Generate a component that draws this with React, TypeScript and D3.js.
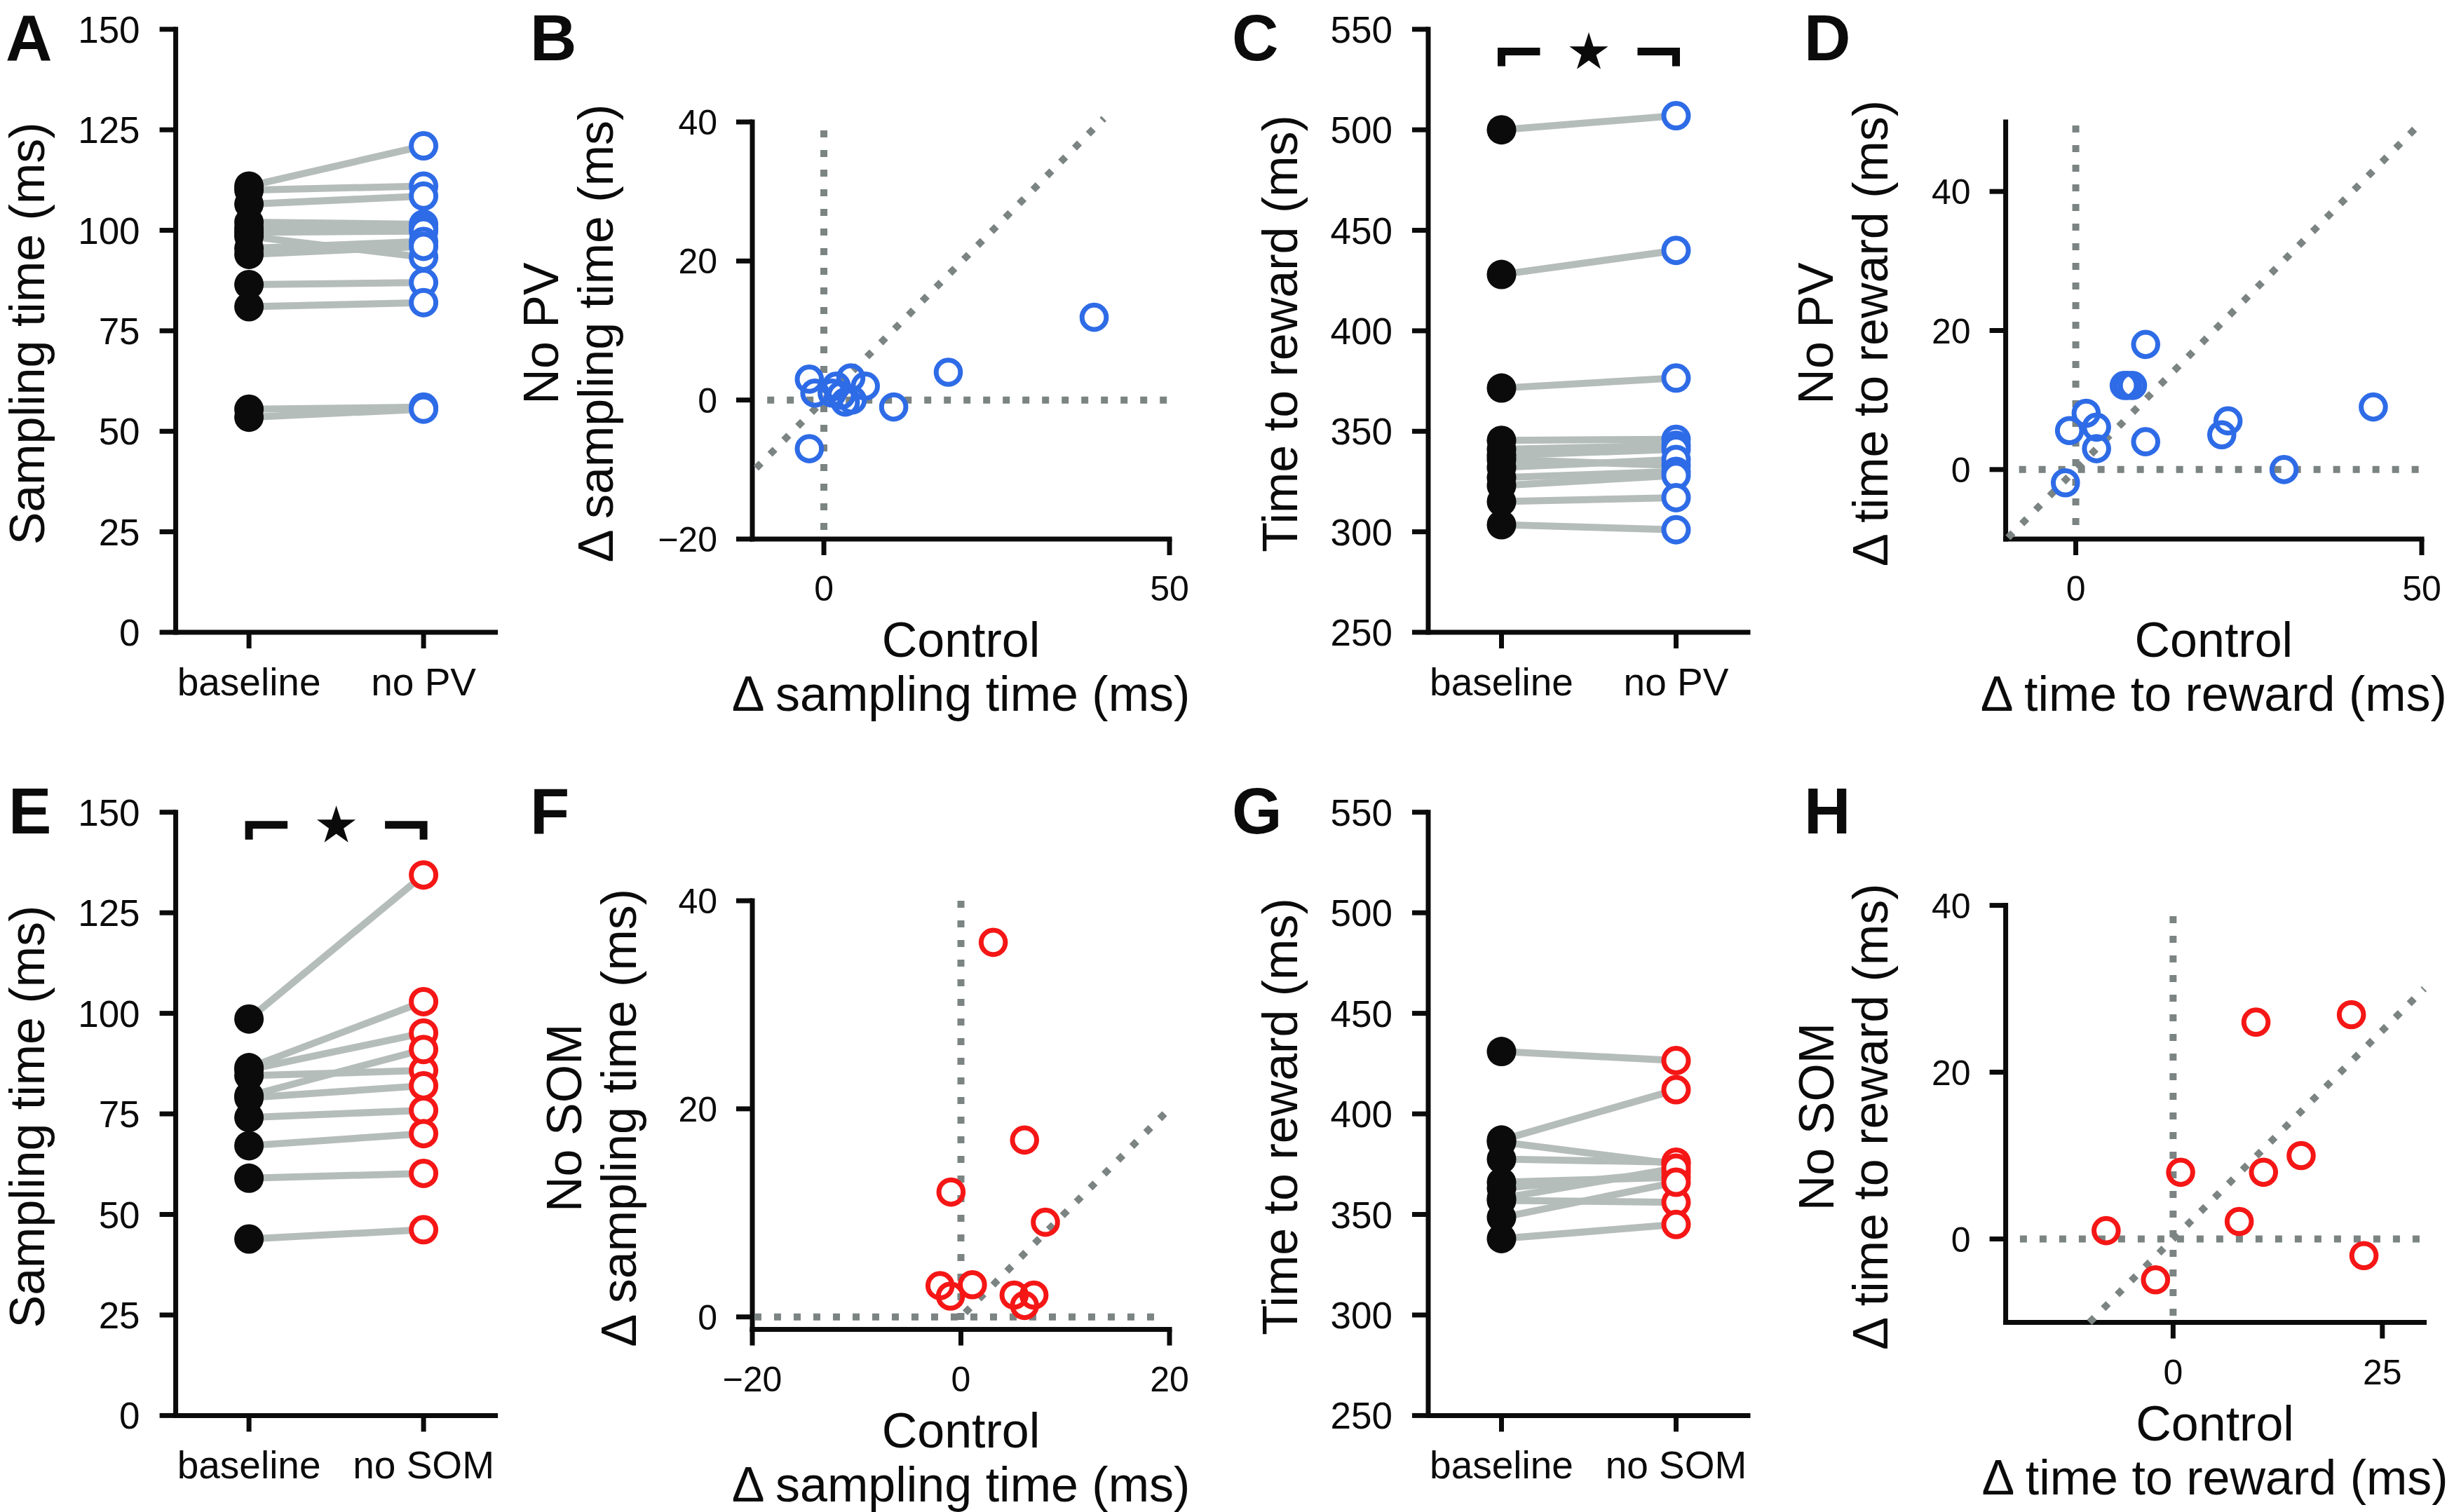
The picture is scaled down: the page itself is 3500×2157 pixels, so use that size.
import React from "react";
import * as d3 from "d3";

// ---------- data ----------
const catsPV = ["baseline", "no PV"];
const catsSOM = ["baseline", "no SOM"];
const samplingTicks = [0, 25, 50, 75, 100, 125, 150];
const rewardTicks = [250, 300, 350, 400, 450, 500, 550];

// A: sampling time, baseline vs no PV
const samplingBaselinePV = [111, 110, 106.5, 102, 100.5, 99.5, 98.5, 95.5, 94, 86.5, 81, 55.5, 53.5];
const samplingNoPV = [121, 111, 108.5, 101.5, 100.5, 99.8, 93.3, 97.2, 96, 87, 82, 56, 55.5];

// C: time to reward, baseline vs no PV
const rewardBaselinePV = [500, 428, 371.5, 345.5, 341, 338, 336, 332, 327, 323, 315, 303.5];
const rewardNoPV = [507, 440, 376.5, 346, 343, 341, 333, 336, 330, 328, 317, 301];

// E: sampling time, baseline vs no SOM
const samplingBaselineSOM = [98.6, 86.5, 86, 84.5, 79.5, 79, 74.1, 67.1, 59, 43.9];
const samplingNoSOM = [134.4, 102.9, 95.1, 85.8, 91, 82, 75.9, 70.1, 60.2, 46.2];

// G: time to reward, baseline vs no SOM
const rewardBaselineSOM = [431, 387, 386, 377.5, 366, 363, 357, 358, 348.5, 338];
const rewardNoSOM = [426.5, 412, 375, 376, 368.5, 371, 356, 373, 366, 345];

// B: delta sampling time, control (x) vs no PV (y)
const dSampCtrlPV = [-2.1, -1.3, -2.1, 1.2, 1.8, 2.5, 3.1, 4.1, 3.9, 6.0, 10.1, 18.0, 39.1];
const dSampNoPV = [3.0, 1.0, -7.0, 1.0, 2.0, 0.7, -0.3, 0, 3.2, 2.0, -1.0, 4.0, 11.9];

// D: delta time to reward, control (x) vs no PV (y)
const dRewCtrlPV = [-1.5, -0.9, 1.5, 3.0, 3.0, 7.0, 7.5, 8.2, 10.1, 10.1, 21.1, 22.0, 30.1, 43.0];
const dRewNoPV = [-1.9, 5.6, 8.1, 6.1, 3.0, 12.1, 12.1, 12.1, 18.0, 4.0, 5.0, 7.0, 0, 9.0];

// F: delta sampling time, control (x) vs no SOM (y)
const dSampCtrlSOM = [3.1, 6.1, -0.95, 8.1, -2.0, 1.1, -1.0, 5.1, 7.0, 6.1];
const dSampNoSOM = [36.0, 17.0, 12.0, 9.1, 3.0, 3.1, 2.0, 2.1, 2.1, 1.1];

// H: delta time to reward, control (x) vs no SOM (y)
const dRewCtrlSOM = [-8.0, -2.1, 0.9, 7.9, 9.9, 10.8, 15.3, 21.3, 22.8];
const dRewNoSOM = [1.0, -4.9, 8.0, 2.1, 26.0, 8.0, 10.0, 26.9, -2.0];

// ---------- style ----------
const FONT = '"Liberation Sans", Arial, Helvetica, sans-serif';
const BLUE = "#2e6be6";
const RED = "#f51616";
const LINE_GRAY = "#b5bdbb";
const DASH_GRAY = "#7b8482";
const INK = "#0b0b0b";

function Letter({ x, y, t }: { x: number; y: number; t: string }) {
  return (
    <text x={x} y={y} fontFamily={FONT} fontWeight="bold" fontSize={92} fill={INK}>
      {t}
    </text>
  );
}

function VText({ x, y, t, size = 70 }: { x: number; y: number; t: string; size?: number }) {
  return (
    <text
      transform={`translate(${x},${y}) rotate(-90)`}
      textAnchor="middle"
      fontFamily={FONT}
      fontSize={size}
      fill={INK}
    >
      {t}
    </text>
  );
}

type PairedProps = {
  letter: string;
  letterX: number;
  letterY: number;
  axisX: number;
  yTop: number;
  yBot: number;
  domain: [number, number];
  ticks: number[];
  cats: string[];
  before: number[];
  after: number[];
  color: string;
  yLabel: string;
  yLabelX: number;
  bracketY?: number;
};

function PairedPanel(p: PairedProps) {
  const y = d3.scaleLinear().domain(p.domain).range([p.yBot, p.yTop]);
  const x = d3.scalePoint<string>().domain(p.cats).range([p.axisX + 104.5, p.axisX + 353.5]);
  const xEnd = p.axisX + 459.5;
  const x0 = x(p.cats[0]) as number;
  const x1 = x(p.cats[1]) as number;
  const star = d3.symbol().type(d3.symbolStar).size(944)() as string;
  return (
    <g>
      <Letter x={p.letterX} y={p.letterY} t={p.letter} />
      <VText x={p.yLabelX} y={(p.yTop + p.yBot) / 2 + 4} t={p.yLabel} />
      <line x1={p.axisX} y1={p.yTop} x2={p.axisX} y2={p.yBot} stroke={INK} strokeWidth={7} strokeLinecap="square" />
      <line x1={p.axisX} y1={p.yBot} x2={xEnd} y2={p.yBot} stroke={INK} strokeWidth={7} />
      {p.ticks.map((t) => (
        <g key={t}>
          <line x1={p.axisX - 23} x2={p.axisX} y1={y(t)} y2={y(t)} stroke={INK} strokeWidth={7} />
          <text x={p.axisX - 51} y={y(t)} dy="0.36em" textAnchor="end" fontFamily={FONT} fontSize={53} fill={INK}>
            {t}
          </text>
        </g>
      ))}
      {p.cats.map((c) => (
        <g key={c}>
          <line x1={x(c)} x2={x(c)} y1={p.yBot} y2={p.yBot + 23} stroke={INK} strokeWidth={7} />
          <text x={x(c)} y={p.yBot + 90} textAnchor="middle" fontFamily={FONT} fontSize={55} fill={INK}>
            {c}
          </text>
        </g>
      ))}
      {p.before.map((b, i) => (
        <line key={"l" + i} x1={x0} y1={y(b)} x2={x1} y2={y(p.after[i])} stroke={LINE_GRAY} strokeWidth={10} />
      ))}
      {p.before.map((b, i) => (
        <circle key={"b" + i} cx={x0} cy={y(b)} r={21} fill={INK} />
      ))}
      {p.after.map((a, i) => (
        <circle key={"a" + i} cx={x1} cy={y(a)} r={17.5} fill="#fff" stroke={p.color} strokeWidth={7} />
      ))}
      {p.bracketY !== undefined && (
        <g>
          <path
            d={`M${x0},${p.bracketY + 21} V${p.bracketY} H${x0 + 55}`}
            fill="none"
            stroke={INK}
            strokeWidth={11}
            strokeLinejoin="miter"
          />
          <path
            d={`M${x1},${p.bracketY + 21} V${p.bracketY} H${x1 - 55}`}
            fill="none"
            stroke={INK}
            strokeWidth={11}
            strokeLinejoin="miter"
          />
          <path d={star} transform={`translate(${(x0 + x1) / 2},${p.bracketY + 1.5})`} fill={INK} />
        </g>
      )}
    </g>
  );
}

type ScatterProps = {
  letter: string;
  letterX: number;
  letterY: number;
  x0: number;
  x1: number;
  yTop: number;
  yBot: number;
  xDomain: [number, number];
  yDomain: [number, number];
  xTicks: number[];
  yTicks: number[];
  xs: number[];
  ys: number[];
  color: string;
  yTitle1: string;
  yTitle2: string;
  yTitleX1: number;
  yTitleX2: number;
  xTitle2: string;
  diag: [number, number];
  vRange: [number, number];
  hRange: [number, number];
};

function ScatterPanel(p: ScatterProps) {
  const x = d3.scaleLinear().domain(p.xDomain).range([p.x0, p.x1]);
  const y = d3.scaleLinear().domain(p.yDomain).range([p.yBot, p.yTop]);
  const cx = (p.x0 + p.x1) / 2;
  const cy = (p.yTop + p.yBot) / 2 + 4;
  const dash = { stroke: DASH_GRAY, strokeWidth: 10, strokeDasharray: "10 18", fill: "none" };
  return (
    <g>
      <Letter x={p.letterX} y={p.letterY} t={p.letter} />
      <VText x={p.yTitleX1} y={cy} t={p.yTitle1} />
      <VText x={p.yTitleX2} y={cy} t={p.yTitle2} />
      <text x={cx} y={p.yBot + 168} textAnchor="middle" fontFamily={FONT} fontSize={70} fill={INK}>
        Control
      </text>
      <text x={cx} y={p.yBot + 245} textAnchor="middle" fontFamily={FONT} fontSize={70} fill={INK}>
        {p.xTitle2}
      </text>
      <line x1={p.x0} y1={p.yTop} x2={p.x0} y2={p.yBot} stroke={INK} strokeWidth={7} strokeLinecap="square" />
      <line x1={p.x0} y1={p.yBot} x2={p.x1} y2={p.yBot} stroke={INK} strokeWidth={7} strokeLinecap="square" />
      {p.yTicks.map((t) => (
        <g key={"y" + t}>
          <line x1={p.x0 - 23} x2={p.x0} y1={y(t)} y2={y(t)} stroke={INK} strokeWidth={7} />
          <text x={p.x0 - 50} y={y(t)} dy="0.36em" textAnchor="end" fontFamily={FONT} fontSize={50} fill={INK}>
            {t < 0 ? "\u2212" + Math.abs(t) : t}
          </text>
        </g>
      ))}
      {p.xTicks.map((t) => (
        <g key={"x" + t}>
          <line x1={x(t)} x2={x(t)} y1={p.yBot} y2={p.yBot + 23} stroke={INK} strokeWidth={7} />
          <text x={x(t)} y={p.yBot + 88} textAnchor="middle" fontFamily={FONT} fontSize={50} fill={INK}>
            {t < 0 ? "\u2212" + Math.abs(t) : t}
          </text>
        </g>
      ))}
      <line x1={x(0)} x2={x(0)} y1={y(p.vRange[1])} y2={y(p.vRange[0])} {...dash} />
      <line x1={x(p.hRange[0])} x2={x(p.hRange[1])} y1={y(0)} y2={y(0)} {...dash} />
      <line x1={x(p.diag[0])} y1={y(p.diag[0])} x2={x(p.diag[1])} y2={y(p.diag[1])} {...dash} />
      {p.xs.map((v, i) => (
        <circle key={i} cx={x(v)} cy={y(p.ys[i])} r={17.3} fill="none" stroke={p.color} strokeWidth={7} />
      ))}
    </g>
  );
}

export default function App() {
  const r1Top = 41.8, r1Bot = 902;
  const r2Top = 1158.7, r2Bot = 2019.4;
  return (
    <svg
      width={3500}
      height={2157}
      viewBox="0 0 3500 2157"
      style={{ position: "absolute", left: 0, top: 0, background: "#fff", display: "block" }}
    >
      <rect x={0} y={0} width={3500} height={2157} fill="#fff" />
      <PairedPanel
        letter="A" letterX={8} letterY={86}
        axisX={250.6} yTop={r1Top} yBot={r1Bot}
        domain={[0, 150]} ticks={samplingTicks} cats={catsPV}
        before={samplingBaselinePV} after={samplingNoPV} color={BLUE}
        yLabel="Sampling time (ms)" yLabelX={63}
      />
      <ScatterPanel
        letter="B" letterX={756} letterY={86}
        x0={1073} x1={1668} yTop={174} yBot={769}
        xDomain={[-10.35, 50]} yDomain={[-20, 40]}
        xTicks={[0, 50]} yTicks={[-20, 0, 20, 40]}
        xs={dSampCtrlPV} ys={dSampNoPV} color={BLUE}
        yTitle1="No PV" yTitle2={"\u0394 sampling time (ms)"} yTitleX1={796} yTitleX2={874}
        xTitle2={"\u0394 sampling time (ms)"}
        diag={[-9.8, 40.5]} vRange={[-20, 38.8]} hRange={[-8.2, 50]}
      />
      <PairedPanel
        letter="C" letterX={1757} letterY={86}
        axisX={2037} yTop={r1Top} yBot={r1Bot}
        domain={[250, 550]} ticks={rewardTicks} cats={catsPV}
        before={rewardBaselinePV} after={rewardNoPV} color={BLUE}
        yLabel="Time to reward (ms)" yLabelX={1850} bracketY={73.6}
      />
      <ScatterPanel
        letter="D" letterX={2573} letterY={86}
        x0={2860.6} x1={3454} yTop={174} yBot={769}
        xDomain={[-10.13, 50]} yDomain={[-10, 50]}
        xTicks={[0, 50]} yTicks={[0, 20, 40]}
        xs={dRewCtrlPV} ys={dRewNoPV} color={BLUE}
        yTitle1="No PV" yTitle2={"\u0394 time to reward (ms)"} yTitleX1={2614} yTitleX2={2692}
        xTitle2={"\u0394 time to reward (ms)"}
        diag={[-9.8, 49.2]} vRange={[-8.3, 49.5]} hRange={[-8.2, 50]}
      />
      <PairedPanel
        letter="E" letterX={12} letterY={1189}
        axisX={250.6} yTop={r2Top} yBot={r2Bot}
        domain={[0, 150]} ticks={samplingTicks} cats={catsSOM}
        before={samplingBaselineSOM} after={samplingNoSOM} color={RED}
        yLabel="Sampling time (ms)" yLabelX={63} bracketY={1176.8}
      />
      <ScatterPanel
        letter="F" letterX={756} letterY={1189}
        x0={1073} x1={1668} yTop={1285} yBot={1896.5}
        xDomain={[-20, 20]} yDomain={[-1.2, 40]}
        xTicks={[-20, 0, 20]} yTicks={[0, 20, 40]}
        xs={dSampCtrlSOM} ys={dSampNoSOM} color={RED}
        yTitle1="No SOM" yTitle2={"\u0394 sampling time (ms)"} yTitleX1={829} yTitleX2={907}
        xTitle2={"\u0394 sampling time (ms)"}
        diag={[0.4, 20]} vRange={[-0.6, 40]} hRange={[-19.8, 19.3]}
      />
      <PairedPanel
        letter="G" letterX={1757} letterY={1189}
        axisX={2037} yTop={r2Top} yBot={r2Bot}
        domain={[250, 550]} ticks={rewardTicks} cats={catsSOM}
        before={rewardBaselineSOM} after={rewardNoSOM} color={RED}
        yLabel="Time to reward (ms)" yLabelX={1850}
      />
      <ScatterPanel
        letter="H" letterX={2573} letterY={1189}
        x0={2860.6} x1={3457.5} yTop={1291.6} yBot={1886.5}
        xDomain={[-20, 30]} yDomain={[-10, 40]}
        xTicks={[0, 25]} yTicks={[0, 20, 40]}
        xs={dRewCtrlSOM} ys={dRewNoSOM} color={RED}
        yTitle1="No SOM" yTitle2={"\u0394 time to reward (ms)"} yTitleX1={2615} yTitleX2={2692}
        xTitle2={"\u0394 time to reward (ms)"}
        diag={[-10, 30]} vRange={[-10, 38.7]} hRange={[-18.3, 30]}
      />
    </svg>
  );
}
